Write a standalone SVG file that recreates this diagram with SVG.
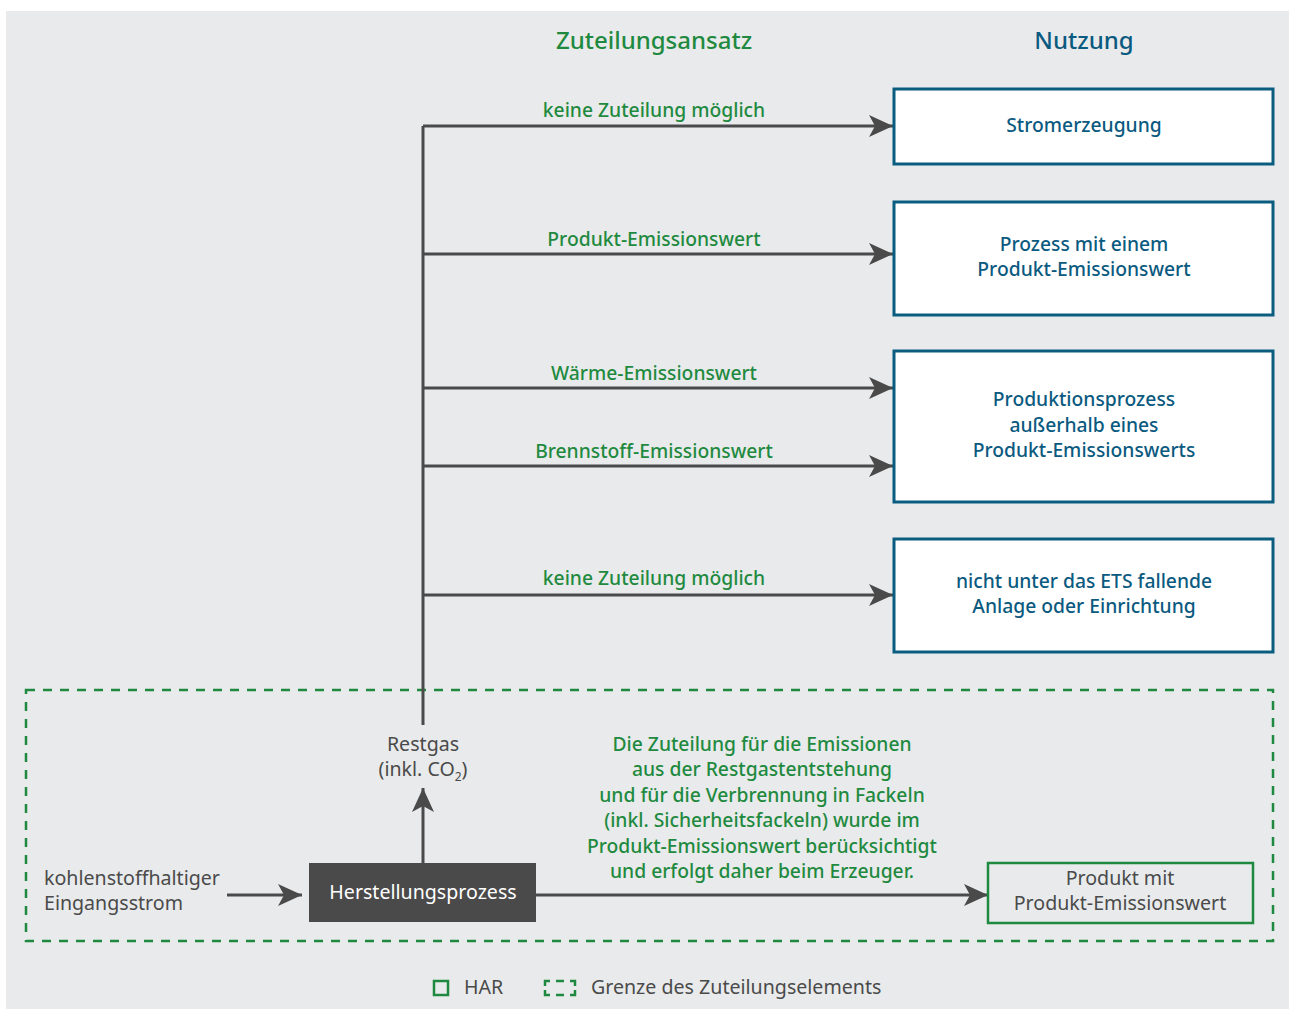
<svg xmlns="http://www.w3.org/2000/svg" width="1289" height="1009" viewBox="0 0 1289 1009">
  <style>
    text { font-family: "Noto Sans", "Open Sans", sans-serif; }
    .title-green { fill: #1f8a3f; font-size: 24px; font-weight: 500; text-anchor: middle; }
    .title-blue { fill: #0b5a80; font-size: 24px; font-weight: 500; text-anchor: middle; }
    .lbl { fill: #1f8a3f; font-size: 19.3px; font-weight: 500; text-anchor: middle; }
    .use-box { fill: #ffffff; stroke: #0b5d80; stroke-width: 3; }
    .use-txt { fill: #0b5a80; font-size: 19.3px; font-weight: 500; text-anchor: middle; }
    .conn { stroke: #4a4a4a; stroke-width: 3; fill: none; }
    .gray-txt { fill: #4a4a4a; font-size: 19.6px; }
    .note { fill: #1f8a3f; font-size: 19.3px; font-weight: 500; text-anchor: middle; }
    .boundary { fill: none; stroke: #1f8a3f; stroke-width: 2.5; stroke-dasharray: 9 8; }
  </style>
  <defs>
    <marker id="arrow" markerUnits="userSpaceOnUse" markerWidth="24" markerHeight="22" refX="24" refY="11" orient="auto">
      <path d="M0,0 L24,11 L0,22 L6,11 Z" fill="#4a4a4a"/>
    </marker>
  </defs>

  <!-- background panel -->
  <rect x="6" y="11" width="1283" height="998" fill="#e9eaec"/>

  <!-- column headings -->
  <text class="title-green" x="654" y="49">Zuteilungsansatz</text>
  <text class="title-blue" x="1084" y="49">Nutzung</text>

  <!-- allocation boundary -->
  <rect class="boundary" x="26" y="690" width="1247" height="251"/>

  <!-- connectors -->
  <g id="connectors">
    <path class="conn" d="M423,725 V126"/>
    <path class="conn" d="M423,126 H893" marker-end="url(#arrow)"/>
    <path class="conn" d="M423,254 H893" marker-end="url(#arrow)"/>
    <path class="conn" d="M423,388 H893" marker-end="url(#arrow)"/>
    <path class="conn" d="M423,466 H893" marker-end="url(#arrow)"/>
    <path class="conn" d="M423,595 H893" marker-end="url(#arrow)"/>
    <path class="conn" d="M423,863 V788" marker-end="url(#arrow)"/>
    <path class="conn" d="M227,895 H302" marker-end="url(#arrow)"/>
    <path class="conn" d="M536,895 H988" marker-end="url(#arrow)"/>

    <text class="lbl" x="654" y="117">keine Zuteilung möglich</text>
    <text class="lbl" x="654" y="246">Produkt-Emissionswert</text>
    <text class="lbl" x="654" y="380">Wärme-Emissionswert</text>
    <text class="lbl" x="654" y="458">Brennstoff-Emissionswert</text>
    <text class="lbl" x="654" y="585">keine Zuteilung möglich</text>
  </g>

  <!-- uses -->
  <g id="stromerzeugung">
    <rect class="use-box" x="894" y="89" width="379" height="75"/>
    <text class="use-txt" x="1084" y="132">Stromerzeugung</text>
  </g>
  <g id="prozess-pew">
    <rect class="use-box" x="894" y="202" width="379" height="113"/>
    <text class="use-txt" x="1084" y="251">Prozess mit einem</text>
    <text class="use-txt" x="1084" y="276">Produkt-Emissionswert</text>
  </g>
  <g id="produktionsprozess">
    <rect class="use-box" x="894" y="351" width="379" height="151"/>
    <text class="use-txt" x="1084" y="406">Produktionsprozess</text>
    <text class="use-txt" x="1084" y="432">außerhalb eines</text>
    <text class="use-txt" x="1084" y="457">Produkt-Emissionswerts</text>
  </g>
  <g id="nicht-ets">
    <rect class="use-box" x="894" y="539" width="379" height="113"/>
    <text class="use-txt" x="1084" y="588">nicht unter das ETS fallende</text>
    <text class="use-txt" x="1084" y="613">Anlage oder Einrichtung</text>
  </g>

  <!-- residual gas -->
  <g id="restgas">
    <text class="gray-txt" x="423" y="751" text-anchor="middle">Restgas</text>
    <text class="gray-txt" x="423" y="776" text-anchor="middle">(inkl. CO<tspan font-size="12" dy="5">2</tspan><tspan dy="-5">)</tspan></text>
  </g>

  <!-- input stream -->
  <g id="eingangsstrom">
    <text class="gray-txt" x="44" y="885">kohlenstoffhaltiger</text>
    <text class="gray-txt" x="44" y="910">Eingangsstrom</text>
  </g>

  <!-- production process -->
  <g id="herstellungsprozess">
    <rect x="309" y="863" width="227" height="59" fill="#4a4a4a"/>
    <text x="423" y="899" fill="#ffffff" font-size="19.6" text-anchor="middle">Herstellungsprozess</text>
  </g>

  <!-- note -->
  <g id="hinweis">
    <text class="note" x="762" y="751">Die Zuteilung für die Emissionen</text>
    <text class="note" x="762" y="776">aus der Restgastentstehung</text>
    <text class="note" x="762" y="802">und für die Verbrennung in Fackeln</text>
    <text class="note" x="762" y="827">(inkl. Sicherheitsfackeln) wurde im</text>
    <text class="note" x="762" y="853">Produkt-Emissionswert berücksichtigt</text>
    <text class="note" x="762" y="878">und erfolgt daher beim Erzeuger.</text>
  </g>

  <!-- product -->
  <g id="produkt">
    <rect x="988" y="863" width="265" height="60" fill="none" stroke="#1f8a3f" stroke-width="2.5"/>
    <text class="gray-txt" x="1120" y="885" text-anchor="middle" font-size="19.2">Produkt mit</text>
    <text class="gray-txt" x="1120" y="910" text-anchor="middle" font-size="19.2">Produkt-Emissionswert</text>
  </g>

  <!-- legend -->
  <g id="legende">
    <rect x="434" y="981" width="14" height="14" fill="none" stroke="#1f8a3f" stroke-width="2.5"/>
    <text class="gray-txt" x="464" y="994">HAR</text>
    <path d="M545,986 V981 H550 M556,981 H564 M570,981 H575 V986 M545,990 V995 H550 M556,995 H564 M570,995 H575 V990" fill="none" stroke="#1f8a3f" stroke-width="2.5"/>
    <text class="gray-txt" x="591" y="994">Grenze des Zuteilungselements</text>
  </g>
</svg>
